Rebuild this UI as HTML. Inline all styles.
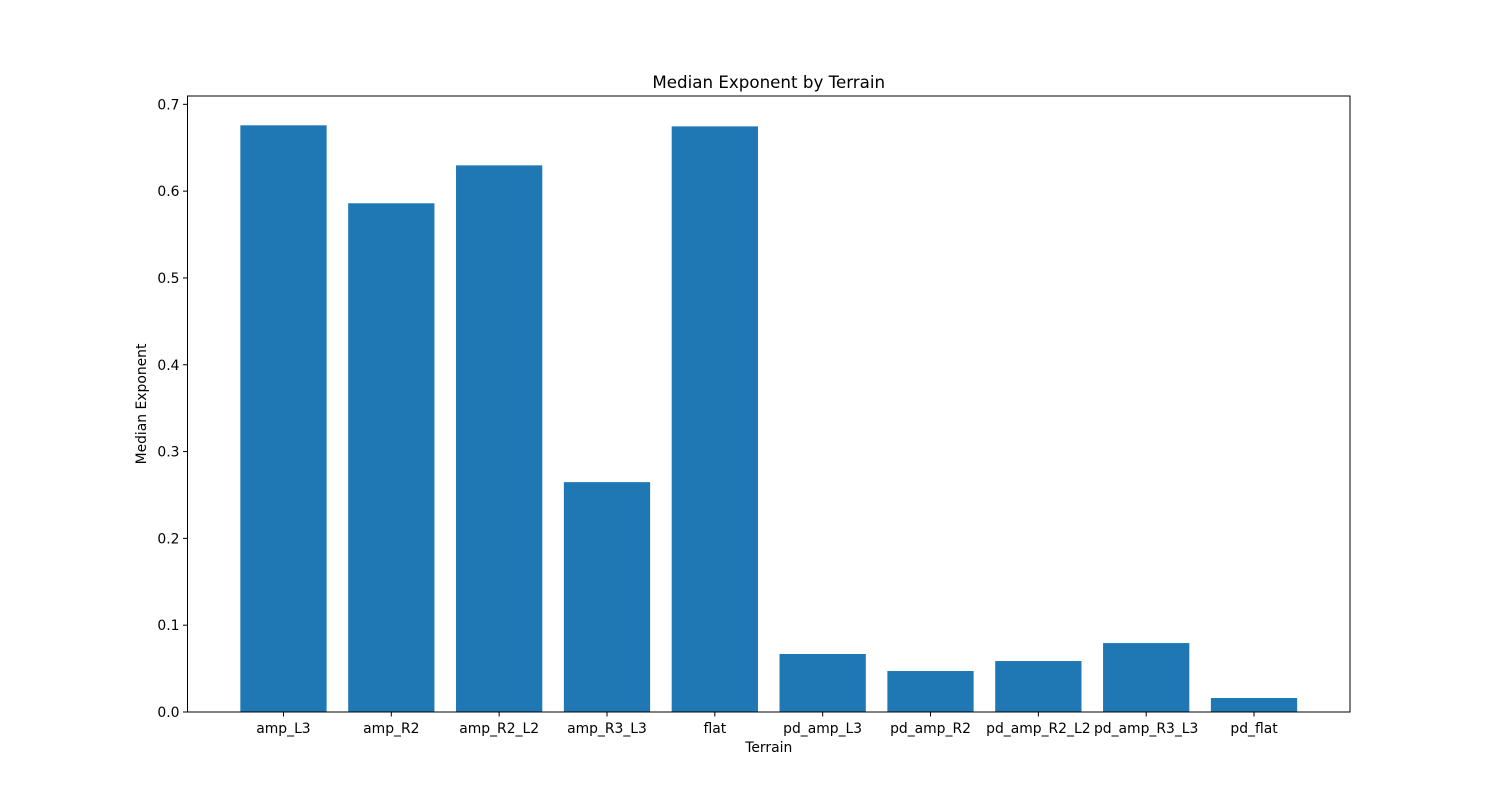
<!DOCTYPE html>
<html><head><meta charset="utf-8"><style>
body{margin:0;background:#fff;}
svg text{font-family:"DejaVu Sans","Liberation Sans",sans-serif;fill:#000;}
</style></head><body>
<svg id="chart" width="1500" height="800" xmlns="http://www.w3.org/2000/svg">
<rect width="1500" height="800" fill="#fff"/>
<text x="768.75" y="88" font-size="16.7" text-anchor="middle">Median Exponent by Terrain</text>
<g id="bars"></g>
<g id="axes"></g>
<rect x="187.5" y="96" width="1162.5" height="616" fill="none" stroke="#000" stroke-width="1"/>
<text x="768.75" y="752" font-size="13.9" text-anchor="middle">Terrain</text>
<text transform="translate(146,404) rotate(-90)" font-size="13.9" text-anchor="middle">Median Exponent</text>
</svg>
<script>
const categories = ["amp_L3","amp_R2","amp_R2_L2","amp_R3_L3","flat","pd_amp_L3","pd_amp_R2","pd_amp_R2_L2","pd_amp_R3_L3","pd_flat"];
const values = [0.6758,0.586,0.6297,0.2648,0.6746,0.0668,0.0472,0.0587,0.0794,0.0161];
const yTicks = [0.0,0.1,0.2,0.3,0.4,0.5,0.6,0.7];
const yTickLabels = ["0.0","0.1","0.2","0.3","0.4","0.5","0.6","0.7"];

const L=187.5,R=1350,T=96,B=712;
const maxV=Math.max(...values)*1.05;
const n=categories.length;
const span=(n-1+0.8)*1.1, x0=-0.4-(n-1+0.8)*0.05;
function xs(i){return L+(i-x0)/span*(R-L);}
function ys(v){return B-v/maxV*(B-T);}
const NS="http://www.w3.org/2000/svg";
const bars=document.getElementById('bars'), axes=document.getElementById('axes');
const bw=0.8/span*(R-L);
values.forEach((v,i)=>{
  const r=document.createElementNS(NS,'rect');
  r.setAttribute('x',xs(i)-bw/2);r.setAttribute('y',ys(v));
  r.setAttribute('width',bw);r.setAttribute('height',B-ys(v));
  r.setAttribute('fill','#1f77b4');
  
  
  bars.appendChild(r);
  const tk=document.createElementNS(NS,'line');
  tk.setAttribute('x1',xs(i));tk.setAttribute('x2',xs(i));tk.setAttribute('y1',B);tk.setAttribute('y2',B+4.5);tk.setAttribute('stroke','#000');
  
  
  axes.appendChild(tk);
  const t=document.createElementNS(NS,'text');
  t.setAttribute('x',xs(i));t.setAttribute('y',B+21);t.setAttribute('font-size','13.9');t.setAttribute('text-anchor','middle');
  t.textContent=categories[i];
  
  
  axes.appendChild(t);
});
yTicks.forEach((v,i)=>{
  const tk=document.createElementNS(NS,'line');
  tk.setAttribute('x1',L-4.5);tk.setAttribute('x2',L);tk.setAttribute('y1',ys(v));tk.setAttribute('y2',ys(v));tk.setAttribute('stroke','#000');
  
  
  axes.appendChild(tk);
  const t=document.createElementNS(NS,'text');
  t.setAttribute('x',L-8);t.setAttribute('y',ys(v)+5);t.setAttribute('font-size','13.9');t.setAttribute('text-anchor','end');
  t.textContent=yTickLabels[i];
  
  
  axes.appendChild(t);
});
</script>
</body></html>
